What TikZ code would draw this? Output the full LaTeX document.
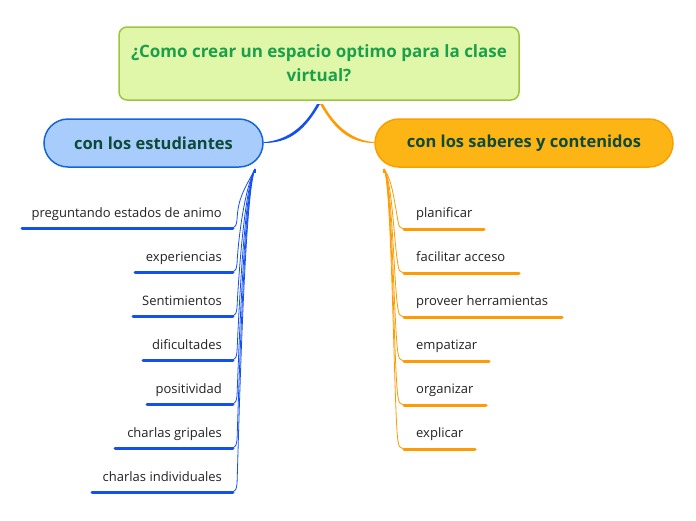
\documentclass[tikz,border=0pt]{standalone}
\usepackage{fontspec}
\setmainfont{Open Sans}
\usetikzlibrary{calc}
\definecolor{titlegreen}{HTML}{1AA04A}
\definecolor{titlefill}{HTML}{E0F6A8}
\definecolor{titleborder}{HTML}{9DC63F}
\definecolor{bluefill}{HTML}{A8CDFC}
\definecolor{blueborder}{HTML}{1466D8}
\definecolor{bluel}{HTML}{1450F0}
\definecolor{orangefill}{HTML}{FDB515}
\definecolor{orangeborder}{HTML}{F7A000}
\definecolor{orangel}{HTML}{FF9A00}
\definecolor{darktext}{HTML}{0D4A3A}
\definecolor{childtext}{HTML}{222222}
\tikzset{
  titlebox/.style={draw=titleborder, line width=1.5pt, fill=titlefill, rounded corners=8pt,
    minimum width=400pt, minimum height=73pt, inner sep=0pt, align=center,
    text=titlegreen, font=\fontsize{17}{24}\selectfont\bfseries},
  pill/.style={line width=1.5pt, rounded corners=24pt, minimum height=48pt, inner sep=0pt,
    text=darktext, font=\fontsize{16.5}{20}\selectfont\bfseries},
  child/.style={inner sep=0pt, text=childtext, font=\fontsize{13}{15}\selectfont},
  bunder/.style={draw=bluel, line width=3pt, line cap=round},
  oleg/.style={draw=orangel, line width=3pt, line cap=round},
  bthin/.style={draw=bluel, line width=0.8pt},
  othin/.style={draw=orangel, line width=0.8pt},
}
\begin{document}
\begin{tikzpicture}[x=1pt,y=-1pt]
\useasboundingbox (0,0) rectangle (696,520);
\node[titlebox] (title) at (319,63.5) {¿Como crear un espacio optimo para la clase\\virtual?};
\node[pill, draw=blueborder, fill=bluefill, minimum width=219pt] (left) at (153.5,143) {con los estudiantes};
\node[pill, draw=orangeborder, fill=orangefill, minimum width=298pt] (right) at (524,143) {con los saberes y contenidos};

% tapered main connectors
\coordinate (ts) at (320,104);
\fill[bluel] (ts) .. controls (305,130) and (290,143) .. (left.east) -- ($(left.east)+(0,-0.8)$) .. controls (290,140) and (306,124) .. ($(ts)+(-3,0)$) -- cycle;
\fill[orangel] (ts) .. controls (335,130) and (350,143) .. (right.west) -- ($(right.west)+(0,-0.8)$) .. controls (350,140) and (334,124) .. ($(ts)+(3,0)$) -- cycle;

% left children
\coordinate (lp) at (255,169);
\foreach \name/\txt/\y/\xs in {l1/preguntando estados de animo/228/22, l2/experiencias/272/135, l3/Sentimientos/316/133, l4/dificultades/360/143, l5/positividad/404/147, l6/charlas gripales/448/115, l7/charlas individuales/492/92}{
  \node[child, anchor=base east] (\name) at (222,\y-11) {\txt};
  \coordinate (\name s) at (\xs,\y);
  \coordinate (\name e) at (233,\y);
  \draw[bunder] (\name s) -- (\name e);
  \draw[bthin] (lp) .. controls (244,190) and (238,\y-30) .. ($(\name e)+(4,-8)$) .. controls (236,\y-2) .. (\name e);
}
\draw[bluel, line width=2pt] (lp) -- ++(0,4);

% right children
\coordinate (rp) at (384,169);
\foreach \name/\txt/\y/\xe in {r1/planificar/229/484, r2/facilitar acceso/273/519, r3/proveer herramientas/317/562, r4/empatizar/361/489, r5/organizar/405/486, r6/explicar/449/475}{
  \node[child, anchor=base west] (\name) at (416,\y-12) {\txt};
  \coordinate (\name s) at (404,\y);
  \coordinate (\name e) at (\xe,\y);
  \draw[oleg] (\name s) -- (\name e);
  \draw[othin] (rp) .. controls (392,180) and (394,\y-30) .. ($(\name s)+(-6,-8)$) .. controls (399,\y-2) .. (\name s);
}
\draw[orangel, line width=2pt] (rp) -- ++(0,4);
\end{tikzpicture}
\end{document}
